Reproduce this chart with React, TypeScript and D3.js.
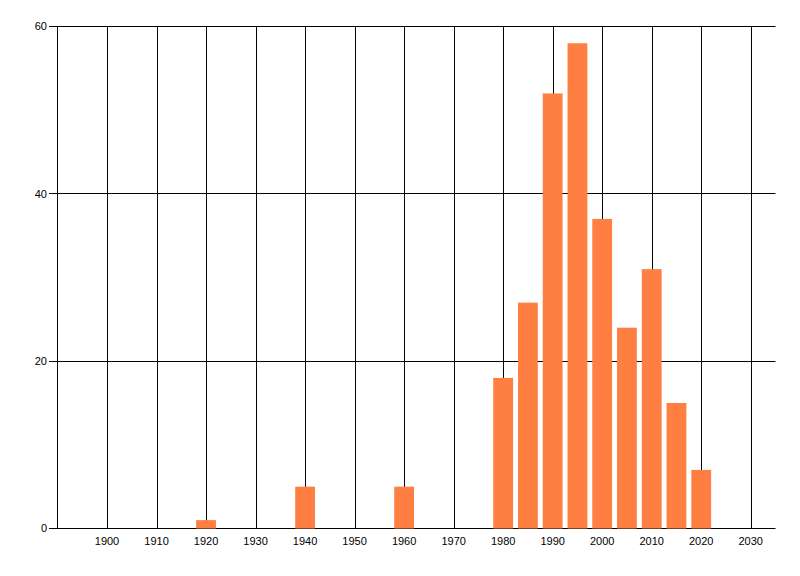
import React from "react";
import * as d3 from "d3";

const years = [1920, 1940, 1960, 1980, 1985, 1990, 1995, 2000, 2005, 2010, 2015, 2020];
const counts = [1, 5, 5, 18, 27, 52, 58, 37, 24, 31, 15, 7];
const xTicks = [1900, 1910, 1920, 1930, 1940, 1950, 1960, 1970, 1980, 1990, 2000, 2010, 2020, 2030];
const yTicks = [0, 20, 40, 60];

export default function App() {
  const W = 800, H = 576;
  const left = 57.5, right = 775.5, top = 26.5, bottom = 528.5;
  const x = d3.scaleLinear().domain([1890, 2035]).range([left, right]);
  const y = d3.scaleLinear().domain([0, 60]).range([bottom, top]);
  const barW = x(1894) - x(1890);
  const font = "'Liberation Sans', Arial, sans-serif";
  return (
    <svg width={W} height={H} style={{ position: "absolute", left: 0, top: 0 }}>
      <rect x={0} y={0} width={W} height={H} fill="#fff" />
      {xTicks.map((t) => (
        <line key={"gx" + t} x1={Math.round(x(t)) + 0.5} x2={Math.round(x(t)) + 0.5} y1={top} y2={bottom} stroke="#000" strokeWidth={1} />
      ))}
      {yTicks.map((t) => (
        <line key={"gy" + t} x1={49} x2={right} y1={Math.round(y(t) - 0.5) + 0.5} y2={Math.round(y(t) - 0.5) + 0.5} stroke="#000" strokeWidth={1} />
      ))}
      <line x1={left} x2={left} y1={top} y2={bottom} stroke="#000" strokeWidth={1} />
      {years.map((yr, i) => (
        <rect key={"b" + yr} x={x(yr) - barW / 2} y={y(counts[i])} width={barW} height={y(0) - y(counts[i])} fill="#FF7F42" />
      ))}
      {yTicks.map((t) => (
        <text key={"ly" + t} x={47} y={y(t)} dy="0.35em" textAnchor="end" fontFamily={font} fontSize={11} fill="#000">{t}</text>
      ))}
      {xTicks.map((t) => (
        <text key={"lx" + t} x={x(t)} y={541} dy="0.35em" textAnchor="middle" fontFamily={font} fontSize={11} fill="#000">{t}</text>
      ))}
    </svg>
  );
}
